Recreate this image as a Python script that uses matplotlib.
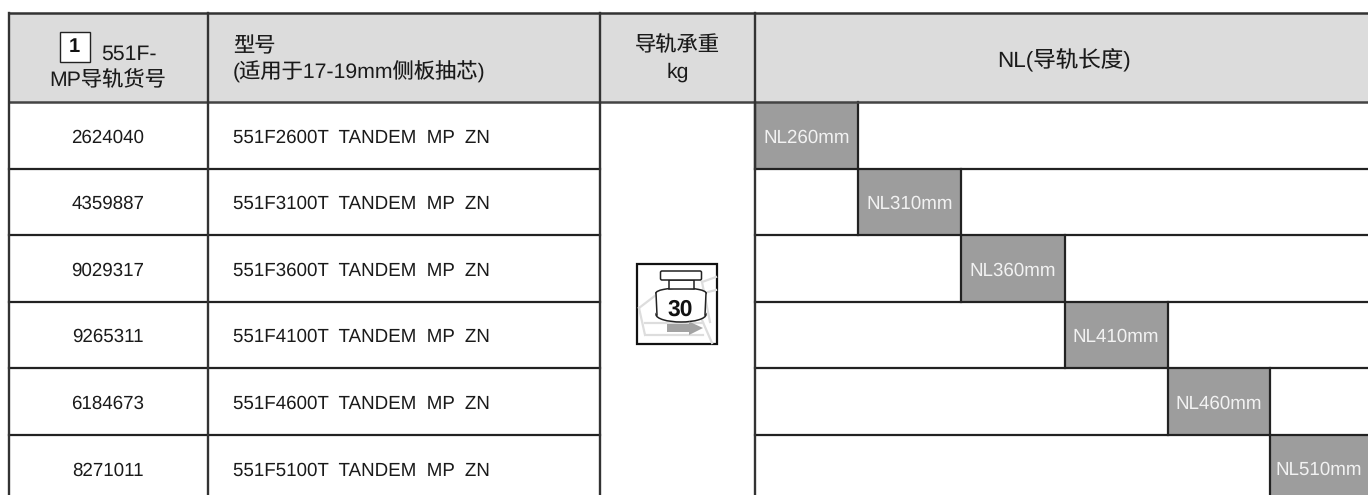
import matplotlib
matplotlib.use('Agg')
import matplotlib.pyplot as plt
from matplotlib.patches import Rectangle, Ellipse, Polygon, FancyBboxPatch

plt.rcParams['font.family'] = ['Liberation Sans', 'Noto Sans CJK SC', 'DejaVu Sans']
plt.rcParams['text.hinting'] = 'none'

# table content
part_numbers = ['2624040', '4359887', '9029317', '9265311', '6184673', '8271011']
models = ['551F2600T  TANDEM  MP  ZN', '551F3100T  TANDEM  MP  ZN', '551F3600T  TANDEM  MP  ZN',
          '551F4100T  TANDEM  MP  ZN', '551F4600T  TANDEM  MP  ZN', '551F5100T  TANDEM  MP  ZN']
lengths = ['NL260mm', 'NL310mm', 'NL360mm', 'NL410mm', 'NL460mm', 'NL510mm']

# grid in pixels
col_x = [8.5, 208, 599.5, 755, 1368]
row_y = [12.5, 102, 168.5, 235, 301.5, 368, 434.5, 500]
nl_x = [755, 858, 961, 1064.5, 1167.5, 1270, 1372]

TXT = '#1a1a1a'
LINE = '#222222'
FS = 13.5   # body
HFS = 15.3  # header

fig = plt.figure(figsize=(13.68, 4.95), dpi=100)
ax = fig.add_axes([0, 0, 1, 1])
ax.set_xlim(0, 1368)
ax.set_ylim(495, 0)
ax.axis('off')

# header background
ax.add_patch(Rectangle((col_x[0], row_y[0]), col_x[-1] - col_x[0], row_y[1] - row_y[0], fc='#dcdcdc', ec='none'))

# grey length cells
for i, lab in enumerate(lengths):
    ax.add_patch(Rectangle((nl_x[i], row_y[i + 1]), nl_x[i + 1] - nl_x[i], row_y[i + 2] - row_y[i + 1],
                           fc='#9d9d9d', ec='none'))
    yc = 470 if i == 5 else (row_y[i + 1] + row_y[i + 2]) / 2 + 2.5
    ax.text((nl_x[i] + min(nl_x[i + 1], 1368)) / 2, yc, lab,
            color='#f2f2f2', fontsize=FS, ha='center', va='center')
    # vertical separators next to the grey cell
    ax.plot([nl_x[i]] * 2, [row_y[i + 1], row_y[i + 2]], color=LINE, lw=1.6)
    if i < 5:
        ax.plot([nl_x[i + 1]] * 2, [row_y[i + 1], row_y[i + 2]], color=LINE, lw=1.6)

# table lines
ax.plot([col_x[0], 1368], [row_y[0]] * 2, color='#333333', lw=1.8)
ax.plot([col_x[0], 1368], [row_y[1]] * 2, color='#444444', lw=1.8)
for k in range(2, 7):
    ax.plot([col_x[0], col_x[2]], [row_y[k]] * 2, color=LINE, lw=1.6)
    ax.plot([col_x[3], 1368], [row_y[k]] * 2, color=LINE, lw=1.6)
for x in col_x[:4]:
    ax.plot([x, x], [row_y[0], 495], color='#333333', lw=1.7)

# header text
box1 = Rectangle((59.5, 32), 30, 29.5, fc='white', ec='#222222', lw=1, joinstyle='miter')
ax.add_patch(box1)
ax.text(74, 47, '1', fontsize=14.5, fontweight='bold', ha='center', va='center', color='#111111')
ax.text(101, 54.5, '551F-', fontsize=HFS, color=TXT, ha='left', va='center')
ax.text(108, 81, 'MP导轨货号', fontsize=HFS, color=TXT, ha='center', va='center')
ax.text(233, 47, '型号', fontsize=HFS, color=TXT, ha='left', va='center')
ax.text(233, 72, '(适用于17-19mm侧板抽芯)', fontsize=HFS, color=TXT, ha='left', va='center')
ax.text(677.5, 46, '导轨承重', fontsize=HFS, color=TXT, ha='center', va='center')
ax.text(677.5, 72, 'kg', fontsize=HFS, color=TXT, ha='center', va='center')
ax.text(1064, 59, 'NL(导轨长度)', fontsize=16.2, color=TXT, ha='center', va='center')

# body rows
for i in range(6):
    yc = 471 if i == 5 else (row_y[i + 1] + row_y[i + 2]) / 2 + 2.5
    ax.text(108, yc, part_numbers[i], fontsize=FS, color=TXT, ha='center', va='center')
    ax.text(233, yc, models[i], fontsize=FS, color=TXT, ha='left', va='center')

# load icon, 30 kg weight on a drawer
ax.add_patch(Rectangle((636.7, 264), 80.6, 80, fc='white', ec='#111111', lw=1.6, joinstyle='miter', zorder=3))
drawer = [[(639, 308), (656, 295)], [(639, 308), (645, 335)], [(645, 323), (703, 323)], [(647, 335), (703, 335)],
          [(702, 282), (716, 277)], [(702, 282), (710, 322)], [(708, 292), (716, 290)], [(702, 320), (712, 343)]]
for seg in drawer:
    ax.plot(*zip(*seg), color='#dddddd', lw=1.6, zorder=4)
ax.add_patch(Polygon([(667, 324), (689, 324), (689, 321.5), (703, 328), (689, 335), (689, 332), (667, 332)],
                     fc='#a3a3a3', ec='none', zorder=7))
# weight body
ax.add_patch(Ellipse((681, 314.5), 50, 15, fc='white', ec='#222222', lw=1.1, zorder=5))
ax.add_patch(Ellipse((681, 293), 50, 10, fc='white', ec='#222222', lw=1.1, zorder=5))
ax.add_patch(Rectangle((656, 293), 50, 21, fc='white', ec='none', zorder=5))
ax.plot([656, 657], [293, 315], color='#222222', lw=1.1, zorder=6)
ax.plot([706, 705], [293, 315], color='#222222', lw=1.1, zorder=6)
# neck and cap
ax.add_patch(Rectangle((668.5, 280), 25, 9, fc='white', ec='#222222', lw=1.1, zorder=6))
ax.add_patch(FancyBboxPatch((662, 272.5), 38, 6, boxstyle='round,pad=1.5', fc='white', ec='#222222', lw=1.1, zorder=7))
ax.text(680, 310, '30', fontsize=16.5, fontweight='bold', ha='center', va='center', color='#111111', zorder=8)

fig.savefig('out.png', dpi=100)
